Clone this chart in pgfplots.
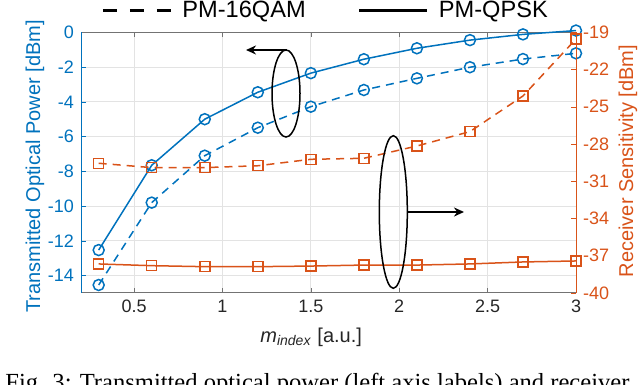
\documentclass[border=0pt]{standalone}
\usepackage{fontspec}
\setmainfont{Liberation Sans}
\newfontfamily\serifcap{Liberation Serif}
\usepackage{graphicx}
\usepackage{pgfplots}
\pgfplotsset{compat=1.18}
\usetikzlibrary{arrows.meta}
\definecolor{mblue}{RGB}{0,114,189}
\definecolor{morange}{RGB}{217,83,25}
\begin{document}
\begin{tikzpicture}
\pgfplotsset{
  common/.style={
    scale only axis, width=247.5pt, height=130.35pt,
    xmin=0.2, xmax=3, at={(40.5pt,45.5pt)}, anchor=south west,
    tick align=inside, major tick length=2.5pt,
    /pgf/number format/assume math mode=true,
    tick label style={font=\fontsize{9}{10}\selectfont},
    label style={font=\fontsize{10.3}{12}\selectfont},
    every axis plot/.append style={line width=0.75pt},
    clip=false,
  }
}
\begin{axis}[common,
  ymin=-15, ymax=0, ytick={-14,-12,...,0},
  xtick={0.5,1,...,3},
  axis y line*=left,
  grid=major, grid style={black!11, line width=0.4pt},
  y axis line style={mblue, line width=0.5pt},
  x axis line style={black!55, line width=0.5pt},
  ytick style={mblue}, yticklabel style={mblue},
  xtick style={black!55}, xticklabel style={black!85},
  ylabel={Transmitted Optical Power [dBm]},
  every axis y label/.style={at={(axis description cs:-0.093,0.485)}, rotate=90, anchor=center, mblue},
  xlabel={\textit{m}\textsubscript{\textit{index}} [a.u.]},
  every axis x label/.style={at={(axis description cs:0.465,-0.188)}, anchor=base, black!85},
  legend style={at={(axis description cs:0.496,1.084)}, anchor=center, draw=none, fill=none,
    legend columns=2, font=\fontsize{11.8}{13}\selectfont,
    /tikz/every odd column/.append style={column sep=3pt},
    /tikz/every even column/.append style={column sep=24pt}},
  legend image code/.code={\draw[#1] (0pt,0pt) -- (34pt,0pt);},
]
\addlegendimage{black, line width=1.6pt, dash pattern=on 7pt off 6.5pt}
\addlegendimage{black, line width=1.6pt}
\addplot[mblue, mark=o, mark size=2.75pt] coordinates {
(0.3,-12.53) (0.6,-7.65) (0.9,-5.0) (1.2,-3.45) (1.5,-2.35) (1.8,-1.55) (2.1,-0.92) (2.4,-0.45) (2.7,-0.12) (3.0,0.1)};
\addplot[mblue, mark=o, mark size=2.75pt, dash pattern=on 4pt off 3pt, mark options={solid}] coordinates {
(0.3,-14.54) (0.6,-9.8) (0.9,-7.1) (1.2,-5.49) (1.5,-4.28) (1.8,-3.32) (2.1,-2.65) (2.4,-2.01) (2.7,-1.54) (3.0,-1.21)};
\legend{PM-16QAM, PM-QPSK}
\end{axis}
\begin{axis}[common,
  ymin=-40, ymax=-19, ytick={-40,-37,...,-19},
  axis y line*=right, axis x line=none,
  y axis line style={morange, line width=0.5pt},
  ytick style={morange}, yticklabel style={morange},
  ylabel={Receiver Sensitivity [dBm]},
  every axis y label/.style={at={(axis description cs:1.105,0.506)}, rotate=90, anchor=center, morange},
]
\addplot[morange, mark=square, mark size=2.5pt] coordinates {
(0.3,-37.66) (0.6,-37.8) (0.9,-37.88) (1.2,-37.88) (1.5,-37.83) (1.8,-37.75) (2.1,-37.75) (2.4,-37.66) (2.7,-37.5) (3.0,-37.42)};
\addplot[morange, mark=square, mark size=2.5pt, dash pattern=on 4pt off 3pt, mark options={solid}] coordinates {
(0.3,-29.55) (0.6,-29.9) (0.9,-29.9) (1.2,-29.75) (1.5,-29.23) (1.8,-29.15) (2.1,-28.16) (2.4,-27.0) (2.7,-24.13) (3.0,-19.54)};
\end{axis}
\begin{scope}[x=0.5pt, y=0.5pt]
\draw[black, line width=0.75pt] (286,290.5) ellipse [x radius=14, y radius=43.5];
\draw[black, line width=1pt, -{Stealth[length=5pt,width=4.5pt]}] (287,334) -- (246,334);
\draw[black, line width=0.75pt] (393.3,172) ellipse [x radius=14, y radius=76.3];
\draw[black, line width=1pt, -{Stealth[length=5pt,width=4.5pt]}] (407.3,172) -- (464,172);
\node[anchor=north west, inner sep=0pt, font=\serifcap] at (5,11) {\resizebox{312pt}{!}{Fig. 3: Transmitted optical power (left axis labels) and receiver}};
\end{scope}
\pgfresetboundingbox
\useasboundingbox (0,0) rectangle (320pt,192pt);
\end{tikzpicture}
\end{document}
